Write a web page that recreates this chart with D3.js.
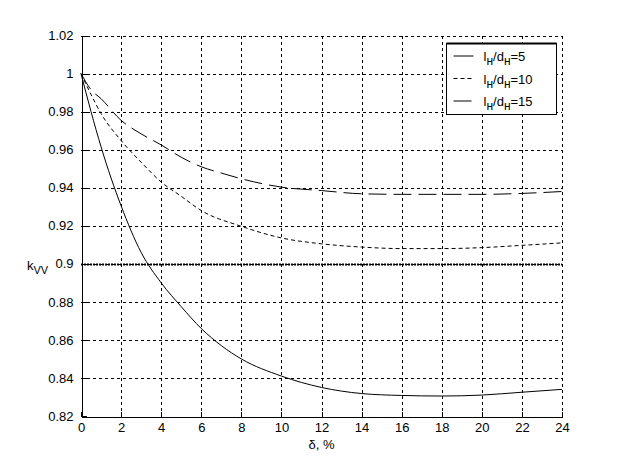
<!DOCTYPE html>
<html>
<head>
<meta charset="utf-8">
<script src="https://cdn.jsdelivr.net/npm/d3@7"></script>
<style>
  body { margin: 0; background: #fff; }
  svg text { font-family: "Liberation Sans", Arial, sans-serif; fill: #000; }
</style>
</head>
<body>
<div id="chart"></div>
<script>
// chart data
const xTicks = [0, 2, 4, 6, 8, 10, 12, 14, 16, 18, 20, 22, 24];
const yTicks = [0.82, 0.84, 0.86, 0.88, 0.9, 0.92, 0.94, 0.96, 0.98, 1, 1.02];
const yTickLabels = ["0.82", "0.84", "0.86", "0.88", "0.9", "0.92", "0.94", "0.96", "0.98", "1", "1.02"];

const xs5 = [0, 0.5, 1, 2, 3, 4, 5, 6, 7, 8, 10, 12, 14, 16, 18, 20, 22, 24];
const k5 = [1, 0.980, 0.9615, 0.9305, 0.906, 0.890, 0.8775, 0.866, 0.857, 0.850, 0.841, 0.835, 0.8318, 0.8308, 0.8305, 0.831, 0.8325, 0.834];

const xs10 = [0, 0.5, 1, 2, 3, 4, 5, 6, 8, 10, 12, 14, 16, 18, 20, 22, 24];
const k10 = [1, 0.989, 0.979, 0.9648, 0.9534, 0.943, 0.9355, 0.928, 0.9197, 0.9136, 0.9105, 0.9088, 0.908, 0.908, 0.9085, 0.9097, 0.911];

const xs15 = [0, 0.5, 1, 2, 3, 4, 5, 6, 7, 8, 10, 12, 14, 16, 18, 20, 22, 24];
const k15 = [1, 0.9915, 0.9868, 0.9754, 0.9683, 0.9625, 0.956, 0.951, 0.9477, 0.9447, 0.9403, 0.9385, 0.9368, 0.9365, 0.9365, 0.9365, 0.937, 0.938];

const refLevel = 0.9;
const legendNums = ["5", "10", "15"];

const W = 622, H = 467;
const margin = {top: 35.5, right: 60, bottom: 51, left: 81};

let svg = d3.select("#chart").append("svg")
    .attr("width", W)
    .attr("height", H);

let x = d3.scaleLinear().domain([0, 24]).range([margin.left, W - margin.right]);
let y = d3.scaleLinear().domain([0.82, 1.02]).range([H - margin.bottom, margin.top]);

// grid
let grid = svg.append("g")
    .attr("stroke", "#000")
    .attr("stroke-width", 1)
    .attr("stroke-dasharray", "3,3")
    .attr("shape-rendering", "crispEdges");

grid.selectAll(".vg").data(xTicks.slice(1)).enter().append("line")
    .attr("x1", d => Math.round(x(d)) + 0.5).attr("x2", d => Math.round(x(d)) + 0.5)
    .attr("y1", y(1.02)).attr("y2", y(0.82));
grid.selectAll(".hg").data(yTicks.slice(1)).enter().append("line")
    .attr("y1", d => Math.round(y(d)) + 0.5).attr("y2", d => Math.round(y(d)) + 0.5)
    .attr("x1", x(0)).attr("x2", x(24));

// axes
let xAxis = d3.axisBottom(x).tickValues(xTicks).tickSize(-5).tickPadding(6).tickSizeOuter(0);
let yAxis = d3.axisLeft(y).tickValues(yTicks).tickSize(-5).tickPadding(8).tickSizeOuter(0)
    .tickFormat((d, i) => yTickLabels[i]);

let gx = svg.append("g")
    .attr("transform", `translate(0, ${Math.round(y(0.82)) + 0.5})`)
    .attr("shape-rendering", "crispEdges")
    .call(xAxis);
let gy = svg.append("g")
    .attr("transform", `translate(${Math.round(x(0)) + 0.5}, 0)`)
    .attr("shape-rendering", "crispEdges")
    .call(yAxis);

[gx, gy].forEach(g => {
    g.select(".domain").attr("stroke", "#000");
    g.selectAll(".tick line").attr("stroke", "#000");
    g.selectAll(".tick text").style("font-size", "13px").attr("fill", "#000");
});

// reference line at 0.9
svg.append("line")
    .attr("x1", x(0)).attr("x2", x(24))
    .attr("y1", Math.round(y(refLevel)) + 0.5).attr("y2", Math.round(y(refLevel)) + 0.5)
    .attr("stroke", "#000").attr("stroke-width", 2)
    .attr("stroke-dasharray", "2,1");

// curves
let line = d3.line()
    .x(d => x(d[0]))
    .y(d => y(d[1]))
    .curve(d3.curveMonotoneX);

const series = [
    {xs: xs5, ys: k5, dash: null},
    {xs: xs10, ys: k10, dash: "4,3"},
    {xs: xs15, ys: k15, dash: "18,7"}
];

series.forEach(s => {
    svg.append("path")
        .datum(s.xs.map((v, i) => [v, s.ys[i]]))
        .attr("d", line)
        .attr("fill", "none")
        .attr("stroke", "#000")
        .attr("stroke-width", 1)
        .attr("stroke-dasharray", s.dash);
});

// legend
let leg = svg.append("g").attr("transform", "translate(446.5, 43.5)");
leg.append("rect")
    .attr("width", 110).attr("height", 71)
    .attr("fill", "#fff").attr("stroke", "#000").attr("stroke-width", 1);
leg.append("line").attr("x1", 0).attr("x2", 110).attr("y1", 0).attr("y2", 0)
    .attr("stroke", "#000").attr("stroke-width", 2);

series.forEach((s, i) => {
    let ry = 12.5 + i * 22.5;
    leg.append("line")
        .attr("x1", 7).attr("x2", 27)
        .attr("y1", ry).attr("y2", ry)
        .attr("stroke", "#000").attr("stroke-width", 1)
        .attr("stroke-dasharray", s.dash);
    let t = leg.append("text")
        .attr("x", 37).attr("y", ry + 5)
        .style("font-size", "13px");
    t.append("tspan").text("l");
    t.append("tspan").attr("dy", 4).style("font-size", "12px").text("н");
    t.append("tspan").attr("dy", -4).text("/d");
    t.append("tspan").attr("dy", 4).style("font-size", "12px").text("н");
    t.append("tspan").attr("dy", -4).text("=" + legendNums[i]);
});

// axis labels
svg.append("text")
    .attr("x", x(12)).attr("y", 449)
    .attr("text-anchor", "middle")
    .style("font-size", "13px")
    .text("δ, %");

let yl = svg.append("text")
    .attr("x", 27).attr("y", 270)
    .style("font-size", "13px");
yl.append("tspan").text("k");
yl.append("tspan").attr("dy", 4).style("font-size", "11px").text("VV");
</script>
</body>
</html>
